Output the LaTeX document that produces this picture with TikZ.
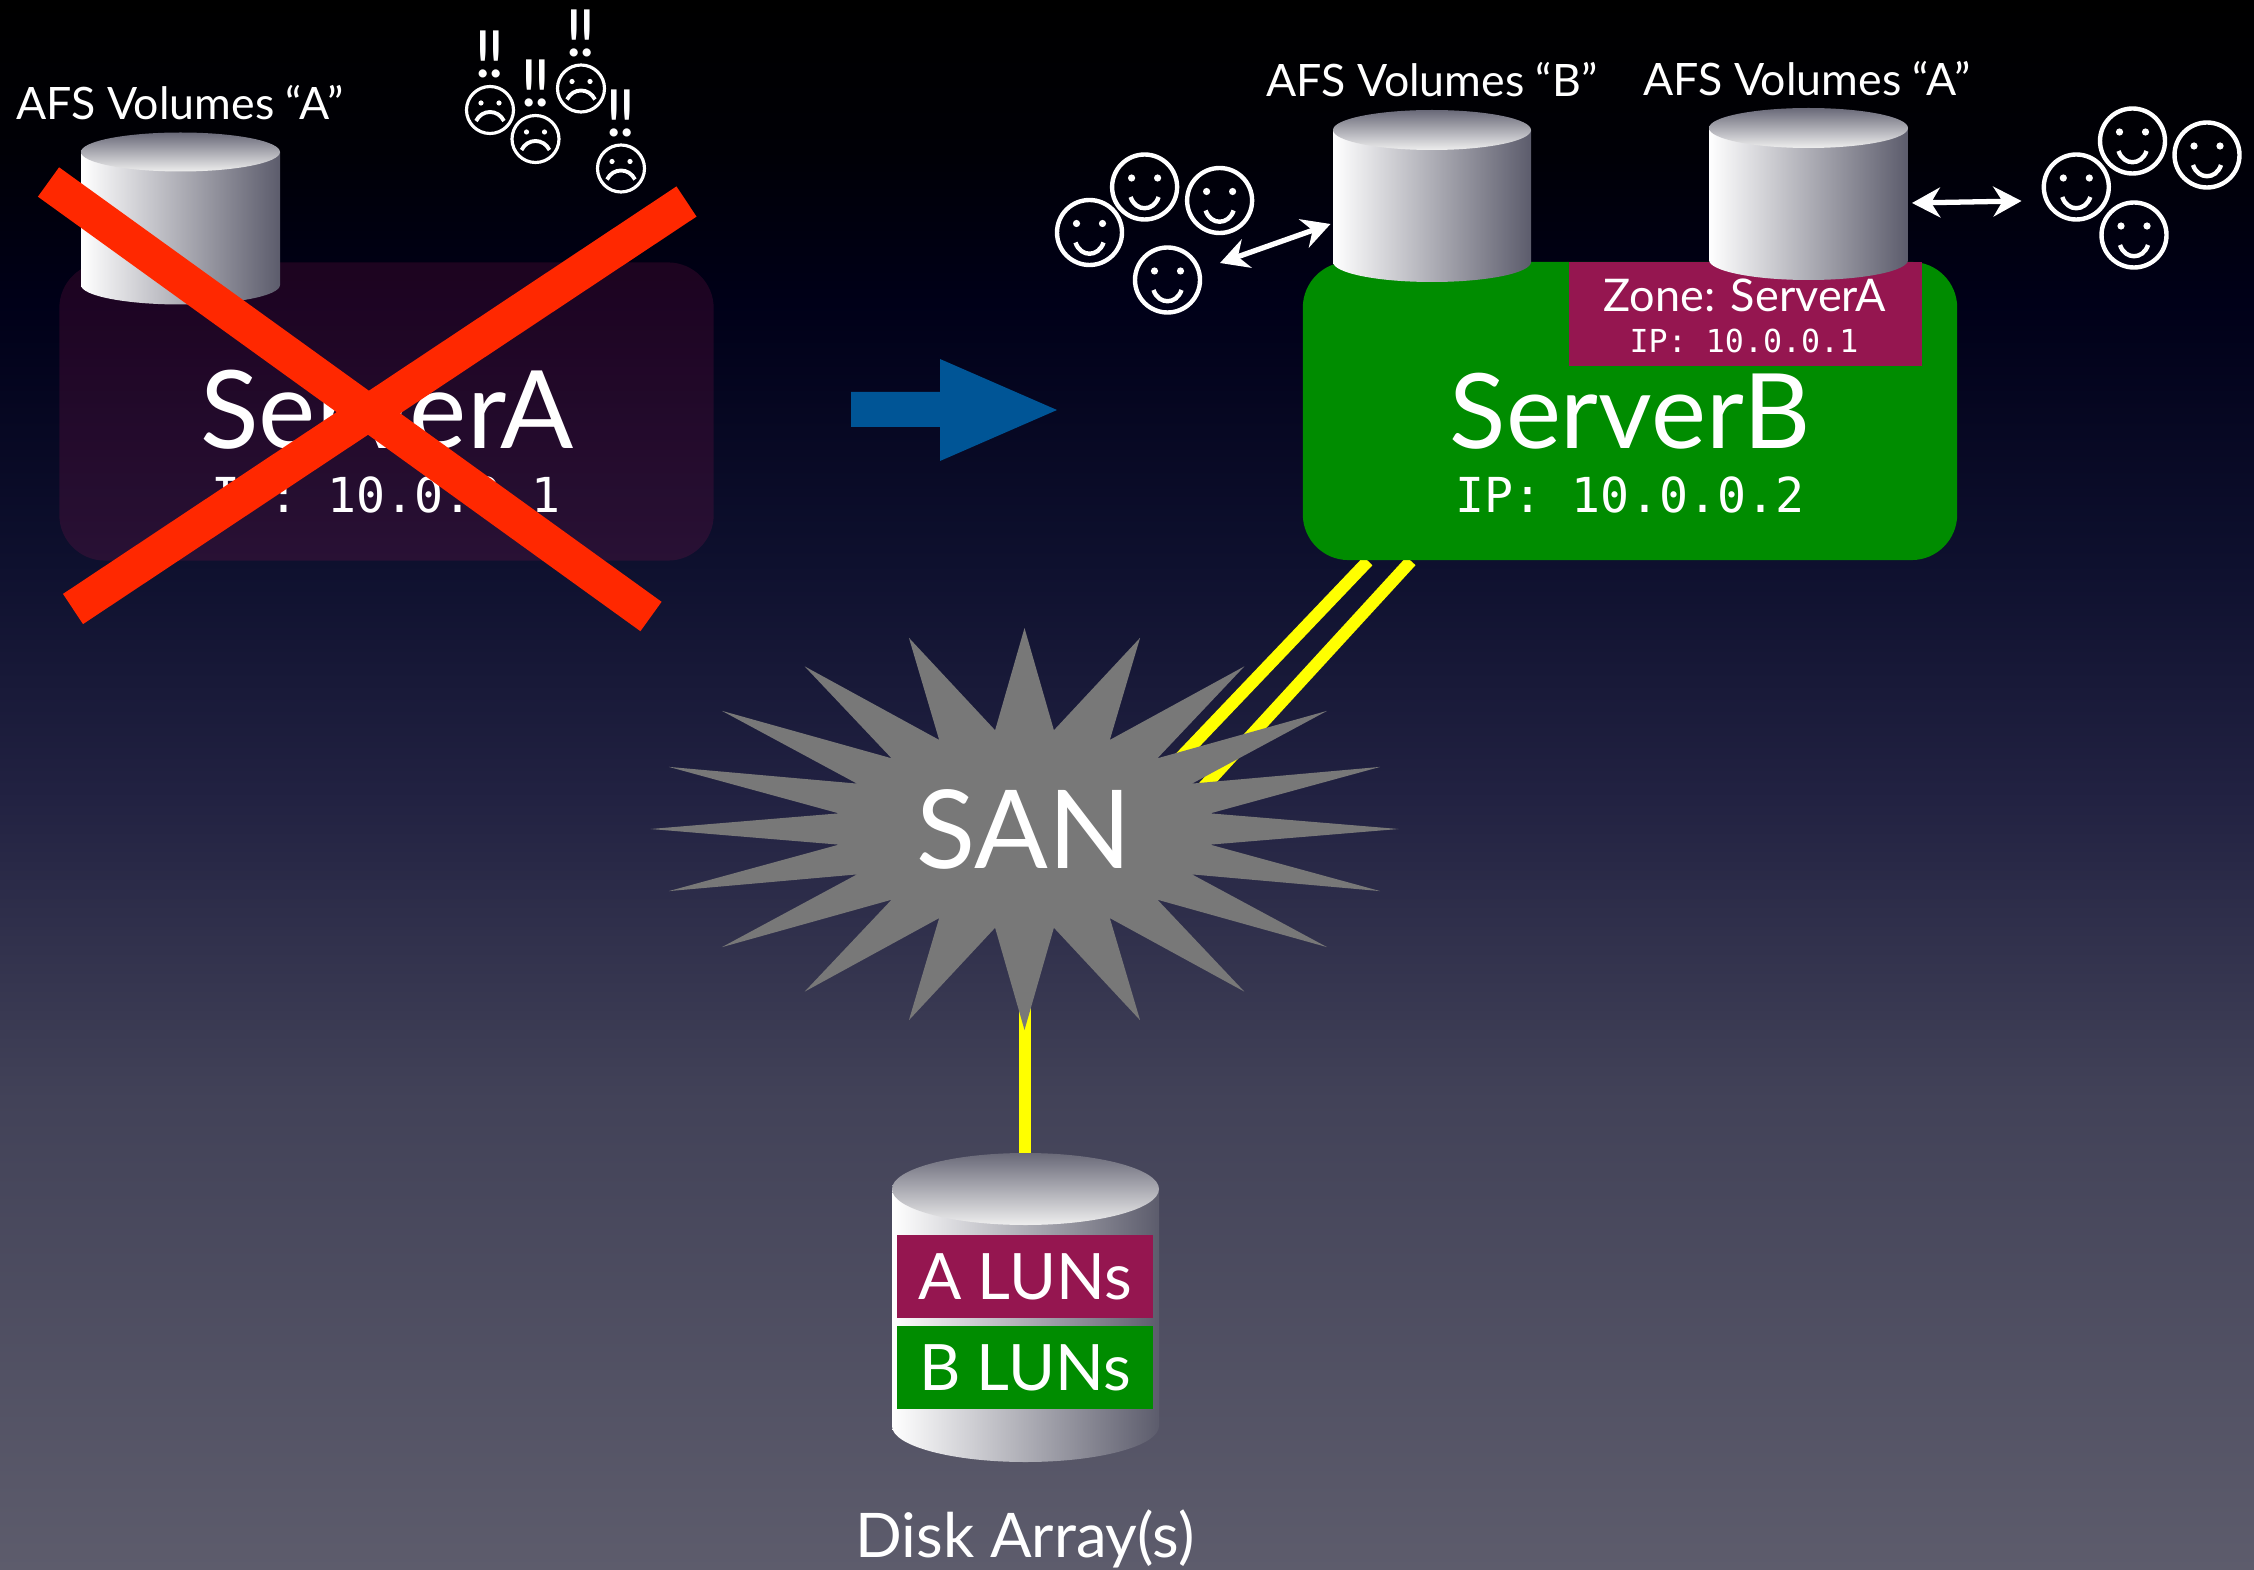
\documentclass[tikz,border=0pt]{standalone}
\usepackage{fontspec}
\setmainfont{Lato}
\newfontfamily\ipfont{DejaVu Sans Mono}
\usetikzlibrary{arrows.meta}
\definecolor{bgtop}{RGB}{0,0,0}
\definecolor{bgb}{RGB}{0,0,6}
\definecolor{bgc}{RGB}{0,0,24}
\definecolor{bgd}{RGB}{14,16,46}
\definecolor{bge}{RGB}{34,34,66}
\definecolor{bgf}{RGB}{66,66,88}
\definecolor{bgbot}{RGB}{93,92,108}
\definecolor{servergreen}{RGB}{0,140,0}
\definecolor{zonered}{RGB}{149,22,80}
\definecolor{crossred}{RGB}{255,40,0}
\definecolor{arrowblue}{RGB}{0,85,150}
\definecolor{sangray}{RGB}{120,120,120}
\definecolor{linkyellow}{RGB}{255,255,0}
\definecolor{cyltop}{RGB}{105,105,120}
\definecolor{cylface}{RGB}{238,238,238}
\definecolor{cylmid}{RGB}{185,185,195}
\definecolor{cylright}{RGB}{92,92,108}
\pgfdeclareverticalshading{slidebg}{100bp}{color(0bp)=(bgbot);color(25bp)=(bgbot);color(40bp)=(bgf);color(49.5bp)=(bge);color(57.1bp)=(bgd);color(65.4bp)=(bgc);color(70.2bp)=(bgb);color(75bp)=(bgtop);color(100bp)=(bgtop)}
% centre x, top y, bottom y, x radius, y radius
\newcommand{\volcyl}[5]{
 \shade[left color=white,middle color=cylmid,right color=cylright] (#1-#4,#2)--(#1-#4,#3) arc[start angle=180,end angle=0,x radius=#4,y radius=#5]--(#1+#4,#2)--cycle;
 \shade[top color=cyltop,bottom color=cylface] (#1,#2) ellipse [x radius=#4,y radius=#5];
}
\tikzset{
 label/.style={white,inner sep=0pt,anchor=base},
 serverbox/.style={rounded corners=13pt,minimum width=6.54cm,minimum height=2.98cm,inner sep=0pt},
 lunbar/.style={white,font=\fontsize{18.2}{18.2}\selectfont,minimum width=2.56cm,minimum height=0.83cm,inner sep=0pt},
 sanlink/.style={linkyellow,line width=3.5pt},
 crossbar/.style={crossred,line width=10.3pt},
 useraccess/.style={white,line width=1.5pt,{Stealth[length=8pt,width=8.5pt]}-{Stealth[length=8pt,width=8.5pt]}},
 happyface/.pic={
  \draw[white,line width=1.25pt] (0,0) ellipse [x radius=32.5,y radius=32.5];
  \fill[white] (-13,-9) circle [radius=3.6] (13,-9) circle [radius=3.6];
  \draw[white,line width=1.25pt] (-14,10) .. controls (-9,25) and (9,25) .. (14,10);
 },
 sadface/.pic={
  \draw[white,line width=0.9pt] (0,0) ellipse [x radius=23.5,y radius=23.5];
  \fill[white] (-9,-7) circle [radius=2.6] (9,-7) circle [radius=2.6];
  \draw[white,line width=1.1pt] (-14,11) .. controls (-8,-1) and (8,-1) .. (14,11);
 },
}
\begin{document}
\begin{tikzpicture}[x=0.01cm,y=-0.01cm]
 \useasboundingbox (0,0) rectangle (2254,1570);
 \shade[shading=slidebg] (0,0) rectangle (2254,1570);
 % links to the SAN, behind everything
 \coordinate (linkba) at (1368,561);
 \coordinate (linkbb) at (1411,561);
 \coordinate (linksa) at (1121,820);
 \coordinate (linksb) at (1146,850);
 \coordinate (sanhub) at (1025,829);
 \coordinate (disktop) at (1025,1170);
 \draw[sanlink] (linkba)--(linksa);
 \draw[sanlink] (linkbb)--(linksb);
 \draw[sanlink,line width=3.3pt] (sanhub)--(disktop);
 % servers
 \node[serverbox,fill=zonered,fill opacity=0.2] (servera) at (386.5,411.5) {};
 \node[serverbox,fill=servergreen] (serverb) at (1630,411) {};
 \node[fill=zonered,minimum width=3.53cm,minimum height=1.04cm,inner sep=0pt] (zone) at (1745.5,314) {};
 \node[label,font=\fontsize{30.8}{30.8}\selectfont] (nameA) at (387,449) {ServerA};
 \node[label,font=\fontsize{13.7}{13.7}\selectfont\ipfont] (ipA) at (386,513) {IP: 10.0.0.1};
 \node[label,font=\fontsize{29.6}{29.6}\selectfont] (nameB) at (1630,449) {ServerB};
 \node[label,font=\fontsize{13.7}{13.7}\selectfont\ipfont] (ipB) at (1630,513) {IP: 10.0.0.2};
 \node[label,font=\fontsize{12.8}{12.8}\selectfont] (zonename) at (1745,312) {Zone: ServerA};
 \node[label,font=\fontsize{9}{9}\selectfont\ipfont] (zoneip) at (1744,353) {IP: 10.0.0.1};
 % volumes
 \volcyl{180.5}{152}{285}{99.5}{19.5}
 \volcyl{1432}{130}{262}{99}{20}
 \volcyl{1808.5}{128}{260}{99.5}{20}
 \node[label,font=\fontsize{12.7}{12.7}\selectfont] (volA) at (180,120) {AFS Volumes “A”};
 \node[label,font=\fontsize{12.7}{12.7}\selectfont] (volB) at (1432,97) {AFS Volumes “B”};
 \node[label,font=\fontsize{12.7}{12.7}\selectfont] (volAmoved) at (1807,96) {AFS Volumes “A”};
 % users
 \foreach \x/\y in {1089.5/232.5,1144.6/187,1219.6/200.5,1167.5/280,2076.3/187,2132.5/141,2207/155,2134/235}
  \pic at (\x,\y) {happyface};
 \foreach \n/\x/\y in {1/490/110,2/535.5/139,3/581/88.5,4/621/168.5}{
  \pic at (\x,\y) {sadface};
  \node[label,font=\fontsize{18.5}{18.5}\selectfont] (bang\n) at (\x,\y-32) {!\kern-1.3pt!};
 }
 \coordinate (usersB) at (1220,263);
 \coordinate (cylB) at (1330.5,224);
 \coordinate (cylA) at (1912,203);
 \coordinate (usersA) at (2021.5,201);
 \draw[useraccess] (usersB)--(cylB);
 \draw[useraccess] (cylA)--(usersA);
 % move arrow
 \fill[arrowblue] (851,392)--(940,392)--(940,359)--(1057,410)--(940,461)--(940,427)--(851,427)--cycle;
 % SAN star
 \begin{scope}[shift={(1024.5,829)}]
 \fill[sangray] (374,0) \foreach \t in {18,36,...,360}{ --({188*cos(\t-9)},{100*sin(\t-9)})--({374*cos(\t)},{201*sin(\t)}) } --cycle;
 \end{scope}
 \node[white,inner sep=0pt,font=\fontsize{31}{31}\selectfont] (san) at (1024,829) {SAN};
 % disk array
 \volcyl{1025.5}{1189}{1426}{133.5}{36}
 \node[lunbar,fill=zonered] (lunA) at (1025,1276.5) {A LUNs};
 \node[lunbar,fill=servergreen] (lunB) at (1025,1367.5) {B LUNs};
 \node[label,font=\fontsize{17.5}{17.5}\selectfont] (diskarray) at (1025,1557) {Disk Array(s)};
 % the cross over server A
 \draw[crossbar] (48.5,182)--(651,616.5);
 \draw[crossbar] (686.5,201.5)--(73,609);
\end{tikzpicture}
\end{document}
